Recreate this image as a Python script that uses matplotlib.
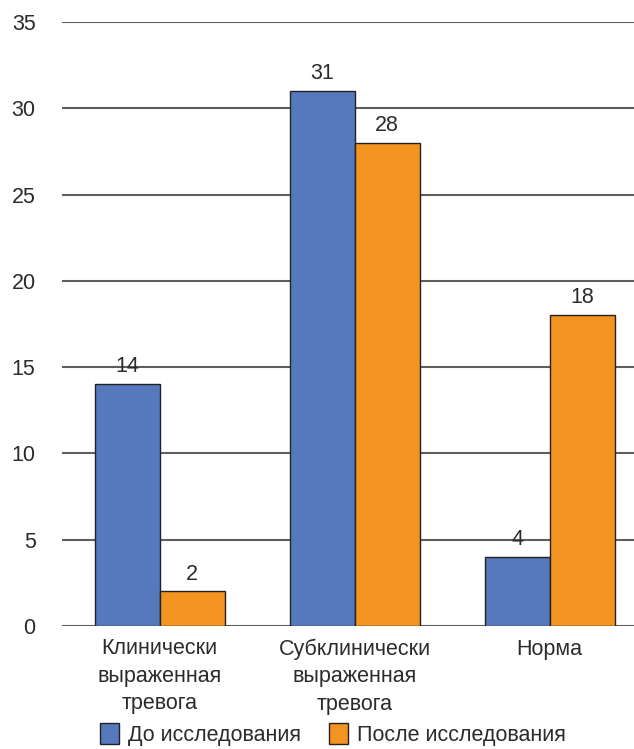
import matplotlib
matplotlib.use('Agg')
import matplotlib.pyplot as plt
import numpy as np

categories = ['Клинически\nвыраженная\nтревога', 'Субклинически\nвыраженная\nтревога', 'Норма']
before = [14, 31, 4]
after = [2, 28, 18]
series_names = ['До исследования', 'После исследования']
yticks = [0, 5, 10, 15, 20, 25, 30, 35]

blue = '#5679be'
orange = '#f39320'
grid_col = '#5e5e5e'
text_col = '#2b2b2b'

plt.rcParams['font.family'] = ['Liberation Sans', 'DejaVu Sans']
plt.rcParams['font.size'] = 15.5

fig = plt.figure(figsize=(6.34, 7.49), dpi=100)
ax = fig.add_axes([62 / 634, 1 - 626 / 749, 585 / 634, 604 / 749])

x = np.arange(len(categories))
w = 1 / 3
b1 = ax.bar(x - w / 2, before, w, color=blue, edgecolor='#222222', linewidth=1, zorder=3, label=series_names[0])
b2 = ax.bar(x + w / 2, after, w, color=orange, edgecolor='#222222', linewidth=1, zorder=3, label=series_names[1])

for bars in (b1, b2):
    for r in bars:
        ax.annotate(str(int(r.get_height())), (r.get_x() + r.get_width() / 2, r.get_height()),
                    xytext=(0, 5), textcoords='offset points', ha='center', va='bottom',
                    color=text_col)

ax.set_xlim(-0.5, 2.5)
ax.set_ylim(0, 35)
ax.set_yticks(yticks)
ax.yaxis.grid(True, color=grid_col, linewidth=1.5, zorder=0)
ax.set_axisbelow(True)
for s in ax.spines.values():
    s.set_visible(False)
ax.tick_params(axis='y', length=0, pad=19, labelcolor=text_col)
ax.tick_params(axis='x', length=0, pad=9, labelcolor=text_col)
ax.set_xticks(x)
ax.set_xticklabels(categories, linespacing=1.4)

fig.legend(loc='lower center', bbox_to_anchor=(333 / 634, -0.022), ncol=2, frameon=False,
           handlelength=0.9, handleheight=1.1, handletextpad=0.4,
           columnspacing=1.3, labelcolor=text_col)

fig.savefig('out.png', dpi=100)
